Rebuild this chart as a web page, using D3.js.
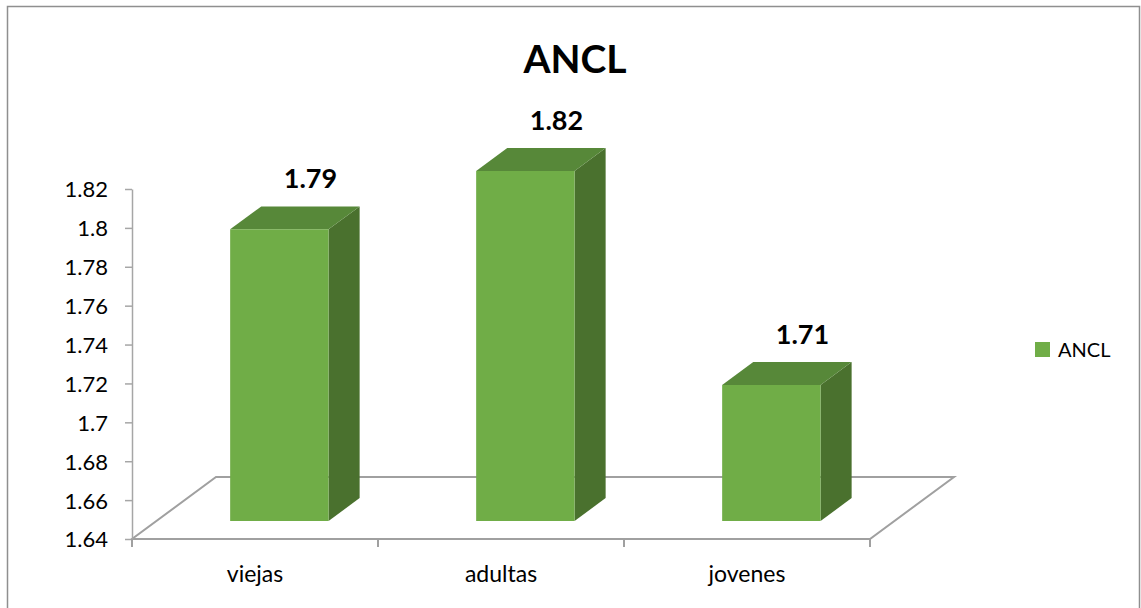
<!DOCTYPE html>
<html>
<head>
  <meta charset="utf-8">
  <script src="https://d3js.org/d3.v7.min.js"></script>
  <style>
    body { margin: 0; background: #fff; font-family: 'Lato', 'Open Sans', sans-serif; }
    .axis text { font-family: 'Lato', sans-serif; font-size: 22px; fill: #000; }
    .axis path, .axis line { stroke: #a6a6a6; stroke-width: 1.5px; }
  </style>
</head>
<body>
<script>
  // chart data
  var categories = ["viejas", "adultas", "jovenes"];
  var values = [1.79, 1.82, 1.71];
  var yTicks = [1.64, 1.66, 1.68, 1.70, 1.72, 1.74, 1.76, 1.78, 1.80, 1.82];
  var seriesName = "ANCL";

  var width = 1141, height = 608;

  var svg = d3.select("body").append("svg")
      .attr("width", width)
      .attr("height", height);

  // outer chart border
  svg.append("rect")
      .attr("x", 7.5).attr("y", 6.5)
      .attr("width", 1132).attr("height", 640)
      .attr("fill", "none")
      .attr("stroke", "#8f8f8f")
      .attr("stroke-width", 1.5);

  var x = d3.scaleBand().domain(categories).range([132, 870]).padding(0);
  var y = d3.scaleLinear().domain([1.64, 1.82]).range([539, 189]);

  // oblique depth of the floor
  var depthX = 84, depthY = -62;
  function px(xv, f) { return xv + f * depthX; }
  function py(yv, f) { return yv + f * depthY; }

  // floor outline
  var floorPts = [[132, 0], [870, 0], [870, 1], [132, 1]];
  svg.append("path")
      .attr("d", d3.line()(floorPts.map(function (p) {
        return [px(p[0], p[1]), py(y(1.64), p[1])];
      })) + "Z")
      .attr("fill", "none")
      .attr("stroke", "#a0a0a0")
      .attr("stroke-width", 2);

  // y axis
  var yAxis = d3.axisLeft(y)
      .tickValues(yTicks)
      .tickSize(7)
      .tickSizeOuter(0)
      .tickPadding(17)
      .tickFormat(function (d) { return String(+d.toFixed(2)); });

  svg.append("g")
      .attr("class", "axis")
      .attr("transform", "translate(132,0)")
      .call(yAxis)
      .selectAll("text").attr("dy", "0.36em");

  // x ticks on the front edge at category boundaries
  var bounds = categories.map(function (c) { return x(c); }).concat([x.range()[1]]);
  svg.append("g").selectAll("line")
      .data(bounds)
      .join("line")
      .attr("x1", function (d) { return d; })
      .attr("x2", function (d) { return d; })
      .attr("y1", y(1.64))
      .attr("y2", y(1.64) + 8)
      .attr("stroke", "#a0a0a0")
      .attr("stroke-width", 2);

  svg.append("g").selectAll("text")
      .data(categories)
      .join("text")
      .attr("x", function (d) { return x(d) + x.bandwidth() / 2; })
      .attr("y", 582)
      .attr("text-anchor", "middle")
      .attr("font-size", "23px")
      .text(function (d) { return d; });

  // 3d bars
  var f0 = 0.29, f1 = 0.66;
  var barW = x.bandwidth() * 0.4;
  var frontColor = "#70ad47", topColor = "#578839", sideColor = "#4a712e";

  var bars = svg.append("g").selectAll("g")
      .data(categories.map(function (c, i) { return { cat: c, val: values[i] }; }))
      .join("g");

  bars.each(function (d) {
    var g = d3.select(this);
    var xl = x(d.cat) + x.bandwidth() / 2 - barW / 2;
    var xr = xl + barW;
    var yb = y(1.64), yt = y(d.val);
    var pt = function (xv, yv, f) { return [px(xv, f), py(yv, f)]; };
    var line = d3.line();
    // right side face
    g.append("path")
      .attr("d", line([pt(xr, yb, f0), pt(xr, yb, f1), pt(xr, yt, f1), pt(xr, yt, f0)]) + "Z")
      .attr("fill", sideColor);
    // top face
    g.append("path")
      .attr("d", line([pt(xl, yt, f0), pt(xr, yt, f0), pt(xr, yt, f1), pt(xl, yt, f1)]) + "Z")
      .attr("fill", topColor);
    // front face
    g.append("path")
      .attr("d", line([pt(xl, yb, f0), pt(xr, yb, f0), pt(xr, yt, f0), pt(xl, yt, f0)]) + "Z")
      .attr("fill", frontColor);
    // data label
    g.append("text")
      .attr("x", px(x(d.cat) + x.bandwidth() / 2, f1))
      .attr("y", py(yt, f1) - 18)
      .attr("text-anchor", "middle")
      .attr("font-size", "27px")
      .attr("font-weight", "bold")
      .text(d.val.toFixed(2));
  });

  // title
  svg.append("text")
      .attr("x", 575)
      .attr("y", 73)
      .attr("text-anchor", "middle")
      .attr("font-size", "39px")
      .attr("font-weight", "bold")
      .text(seriesName);

  // legend
  var legend = svg.append("g").attr("transform", "translate(1035,342)");
  legend.append("rect")
      .attr("width", 15).attr("height", 15)
      .attr("fill", frontColor);
  legend.append("text")
      .attr("x", 23).attr("y", 15)
      .attr("font-size", "20px")
      .text(seriesName);
</script>
</body>
</html>
